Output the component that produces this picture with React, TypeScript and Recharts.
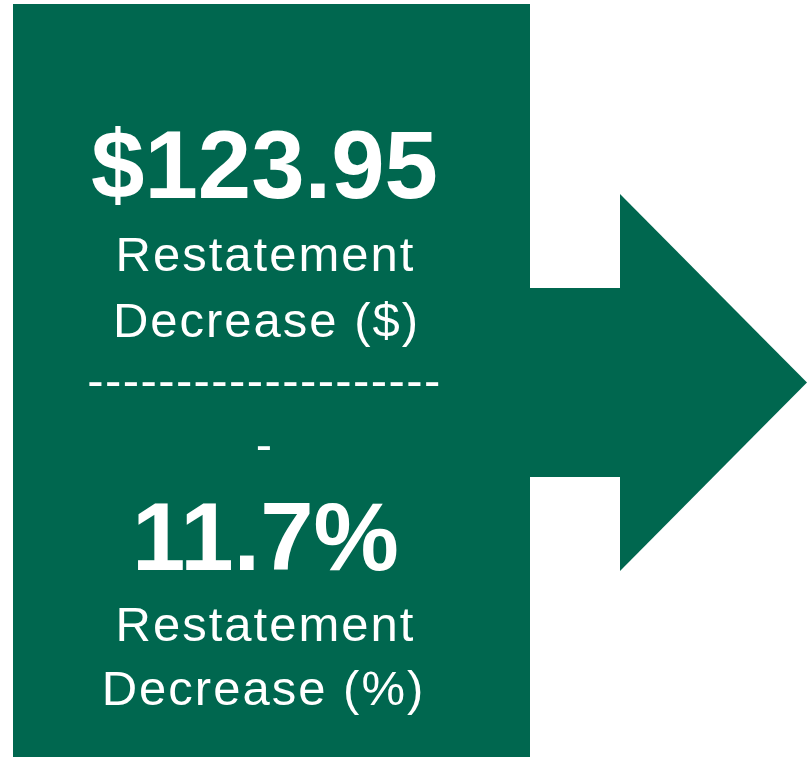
import React from 'react';
import { ComposedChart, XAxis, YAxis, ReferenceArea } from 'recharts';

// ---- data ----
const metricValues = [123.95, 11.7];
const metricFormats = ['currency', 'percent'];
const metricLabelLines = [
  ['Restatement', 'Decrease ($)'],
  ['Restatement', 'Decrease (%)'],
];
const dividerLines = ['--------------------', '-'];

// ---- layout / style ----
const W = 807;
const H = 757;
const GREEN = '#00674F';
const FONT = '"Liberation Sans", Arial, Helvetica, sans-serif';

const box = { x1: 13, x2: 530, y1: 4, y2: 757 };
const shaft = { x1: 529, x2: 621, y1: 288, y2: 477 };
const head = { x1: 620, x2: 807, y1: 194, y2: 571 };

const fmt = (v: number, f: string) =>
  f === 'currency' ? `$${v.toFixed(2)}` : `${v.toFixed(1)}%`;

const BoxShape = (props: any) => {
  const { x, y, width, height } = props;
  const cx = x + width / 2 - 7;
  const bigStyle = { fontFamily: FONT, fontWeight: 700, fontSize: 96, fill: '#fff' } as const;
  const smallStyle = { fontFamily: FONT, fontWeight: 400, fontSize: 49, fill: '#fff', letterSpacing: 2.0 } as const;
  const dashStyle = { fontFamily: FONT, fontWeight: 400, fontSize: 49, fill: '#fff', letterSpacing: 1.4 } as const;
  return (
    <g>
      <rect x={x} y={y} width={width} height={height} fill={GREEN} />
      <text x={cx} y={198} textAnchor="middle" style={bigStyle}>{fmt(metricValues[0], metricFormats[0])}</text>
      <text x={cx + 1} y={271} textAnchor="middle" style={smallStyle}>{metricLabelLines[0][0]}</text>
      <text x={cx + 2} y={337} textAnchor="middle" style={smallStyle}>{metricLabelLines[0][1]}</text>
      <text x={cx} y={397} textAnchor="middle" style={dashStyle}>{dividerLines[0]}</text>
      <text x={cx} y={461} textAnchor="middle" style={dashStyle}>{dividerLines[1]}</text>
      <text x={cx + 1} y={570} textAnchor="middle" style={bigStyle}>{fmt(metricValues[1], metricFormats[1])}</text>
      <text x={cx + 1} y={641} textAnchor="middle" style={smallStyle}>{metricLabelLines[1][0]}</text>
      <text x={cx - 1} y={705} textAnchor="middle" style={smallStyle}>{metricLabelLines[1][1]}</text>
    </g>
  );
};

const HeadShape = (props: any) => {
  const { x, y, width, height } = props;
  const pts = `${x},${y} ${x + width},${y + height / 2} ${x},${y + height}`;
  return <polygon points={pts} fill={GREEN} />;
};

const ShaftShape = (props: any) => {
  const { x, y, width, height } = props;
  return <rect x={x} y={y} width={width} height={height} fill={GREEN} />;
};

export default function App() {
  return (
    <div style={{ position: 'absolute', left: 0, top: 0, width: W, height: H, background: '#fff' }}>
      <ComposedChart width={W} height={H} margin={{ top: 0, right: 0, bottom: 0, left: 0 }}>
        <XAxis type="number" dataKey="x" domain={[0, W]} hide allowDataOverflow />
        <YAxis type="number" dataKey="y" domain={[0, H]} reversed hide allowDataOverflow />
        <ReferenceArea x1={shaft.x1} x2={shaft.x2} y1={shaft.y1} y2={shaft.y2} shape={ShaftShape} ifOverflow="visible" />
        <ReferenceArea x1={head.x1} x2={head.x2} y1={head.y1} y2={head.y2} shape={HeadShape} ifOverflow="visible" />
        <ReferenceArea x1={box.x1} x2={box.x2} y1={box.y1} y2={box.y2} shape={BoxShape} ifOverflow="visible" />
      </ComposedChart>
    </div>
  );
}
